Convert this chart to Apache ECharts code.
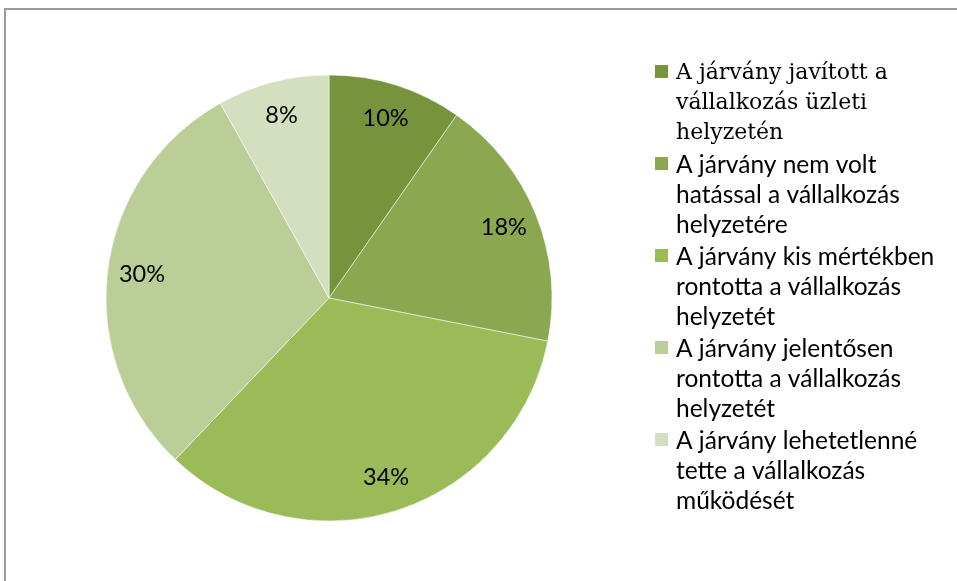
<!DOCTYPE html>
<html><head><meta charset="utf-8">
<script src="https://cdn.jsdelivr.net/npm/echarts@6/dist/echarts.min.js"></script>
<style>html,body{margin:0;padding:0;background:#fff}#c{width:957px;height:581px}</style>
</head><body><div id="c"></div>
<script>
const categories = [
  "A járvány javított a\nvállalkozás üzleti\nhelyzetén",
  "A járvány nem volt\nhatással a vállalkozás\nhelyzetére",
  "A járvány kis mértékben\nrontotta a vállalkozás\nhelyzetét",
  "A járvány jelentősen\nrontotta a vállalkozás\nhelyzetét",
  "A járvány lehetetlenné\ntette a vállalkozás\nműködését"
];
const values = [9.7, 18.4, 34.0, 29.8, 8.1];
const colors = ["#77933C", "#8BA74F", "#9BBB59", "#BBCE97", "#D3DFBF"];

const data = categories.map((n, i) => ({ name: n, value: values[i], itemStyle: { color: colors[i] } }));
const chart = echarts.init(document.getElementById('c'), null, { renderer: 'canvas' });
const sansFont = 'Lato, "Open Sans", sans-serif';
chart.setOption({
  animation: false,
  graphic: [{ type: 'rect', shape: { x: 5, y: 9, width: 1200, height: 1200 }, style: { fill: 'none', stroke: '#9a9a9a', lineWidth: 2 }, silent: true }],
  legend: {
    orient: 'vertical', left: 653, top: 57, itemGap: 0, padding: 0,
    itemWidth: 15, itemHeight: 90,
    icon: 'path://M0,0L0.01,0L0,0.01Z M0,6L15,6L15,21L0,21Z M0,90L0.01,90L0,89.99Z',
    data: categories,
    formatter: function (n) { return n === categories[0] ? '{s|' + n.split('\n').join('}\n{s|') + '}' : n; },
    textStyle: { fontFamily: sansFont, fontSize: 24.5, lineHeight: 30, color: '#000', padding: [0, 0, 0, 2],
      rich: { s: { fontFamily: '"DejaVu Serif", serif', fontSize: 22, lineHeight: 30, color: '#000' } } }
  },
  series: [
    { type: 'pie', center: [329, 298], radius: [0, 223], startAngle: 90, clockwise: true, data: data,
      label: { show: false }, labelLine: { show: false }, silent: true,
      itemStyle: { borderColor: '#fff', borderWidth: 0.5 } },
    { type: 'pie', center: [329, 298], radius: [148, 223], startAngle: 90, clockwise: true,
      data: categories.map((n, i) => ({ name: n, value: values[i] })),
      itemStyle: { color: 'rgba(0,0,0,0)' }, silent: true, legendHoverLink: false,
      label: { show: true, position: 'inside', formatter: p => Math.round(p.value) + '%', fontFamily: sansFont, fontSize: 23.5, color: '#000' },
      labelLine: { show: false } }
  ]
});
</script></body></html>
